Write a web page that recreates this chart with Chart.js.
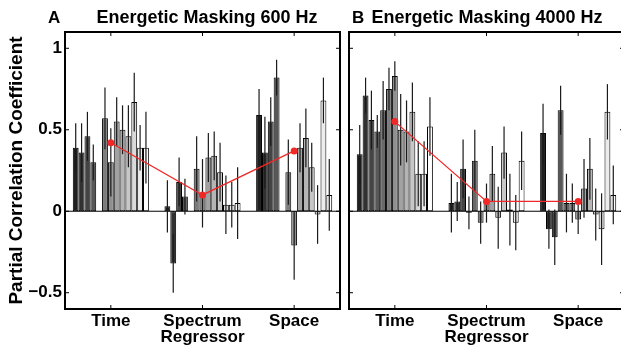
<!DOCTYPE html>
<html>
<head>
<meta charset="utf-8">
<script src="https://cdn.jsdelivr.net/npm/chart.js@4.4.0/dist/chart.umd.min.js"></script>
<style>
html,body{margin:0;padding:0;background:#fff;overflow:hidden;width:621px;height:352px}
.panel{position:absolute;top:0;height:352px}
#pa{left:0;width:345px}
#pb{left:345px;width:284px}
</style>
</head>
<body>
<div class="panel" id="pa"><canvas id="chartA" width="345" height="352"></canvas></div>
<div class="panel" id="pb"><canvas id="chartB" width="284" height="352"></canvas></div>
<script>
const regressors = ["Time", "Spectrum", "Space"];
const yTicks = [-0.5, 0, 0.5, 1];

// panel A, 600 Hz (slot 5 has no bar)
const timeA     = [0.39, 0.36, 0.46, 0.30, null, 0.57, 0.30, 0.55, 0.50, 0.46, 0.67, 0.39, 0.39];
const timeAErr  = [0.15, 0.18, 0.15, 0.11, null, 0.19, 0.21, 0.15, 0.15, 0.19, 0.18, 0.14, 0.22];
const specA     = [0.03, -0.32, 0.18, 0.09, null, 0.26, 0.11, 0.33, 0.34, 0.24, 0.04, 0.04, 0.05];
const specAErr  = [0.16, 0.18, 0.15, 0.11, null, 0.20, 0.21, 0.15, 0.15, 0.18, 0.18, 0.14, 0.22];
const spaceA    = [0.59, 0.36, 0.55, 0.82, null, 0.24, -0.21, 0.39, 0.45, 0.27, -0.02, 0.68, 0.10];
const spaceAErr = [0.16, 0.22, 0.15, 0.11, null, 0.20, 0.21, 0.15, 0.18, 0.15, 0.18, 0.14, 0.22];
const meanA     = [0.42, 0.10, 0.37];

// panel B, 4000 Hz
const timeB     = [0.35, 0.71, 0.56, 0.49, 0.62, 0.75, 0.83, 0.50, 0.49, 0.61, 0.23, 0.23, 0.52];
const timeBErr  = [0.18, 0.11, 0.18, 0.10, 0.18, 0.13, 0.09, 0.22, 0.19, 0.18, 0.20, 0.20, 0.18];
const specB     = [0.05, 0.06, 0.26, -0.01, 0.31, -0.07, 0.05, 0.23, -0.04, 0.36, 0.01, -0.07, 0.31];
const specBErr  = [0.18, 0.12, 0.18, 0.10, 0.19, 0.13, 0.12, 0.17, 0.19, 0.16, 0.22, 0.17, 0.18];
const spaceB    = [0.48, -0.11, -0.16, 0.62, 0.05, 0.05, -0.05, 0.14, 0.26, -0.02, -0.11, 0.61, 0.10];
const spaceBErr = [0.18, 0.12, 0.17, 0.15, 0.18, 0.12, 0.09, 0.18, 0.19, 0.16, 0.22, 0.17, 0.18];
const meanB     = [0.55, 0.06, 0.06];

const FONT = "'Liberation Sans', Arial, Helvetica, sans-serif";

function grayFill(i){
  const g = Math.round(255*(0.12 + 0.88*i/12));
  return `rgb(${g},${g},${g})`;
}

function buildDatasets(groups, errs, means){
  const sets = [];
  for(let i=0;i<13;i++){
    sets.push({
      type:'bar',
      data: groups.map(g => g[i]),
      errors: errs.map(e => e[i]),
      backgroundColor: grayFill(i),
      borderColor:'#000',
      borderWidth:1,
      borderSkipped:false,
      categoryPercentage:0.83,
      barPercentage:1.0,
      order:1
    });
  }
  sets.push({
    type:'line',
    data: means,
    borderColor:'#f02828',
    borderWidth:1.3,
    pointRadius:3.5,
    pointBackgroundColor:'#f02828',
    pointBorderWidth:0,
    order:0
  });
  return sets;
}

const decor = {
  id:'decor',
  beforeDatasetDraw(chart, args){
    if(args.meta.type !== 'line') return;
    const ctx = chart.ctx, y = chart.scales.y, a = chart.chartArea;
    ctx.save();
    ctx.strokeStyle = '#000';
    ctx.lineWidth = 1;
    const y0 = y.getPixelForValue(0);
    ctx.beginPath(); ctx.moveTo(a.left, y0); ctx.lineTo(a.right, y0); ctx.stroke();
    ctx.strokeStyle = '#1a1a1a';
    ctx.lineWidth = 1.2;
    chart.data.datasets.forEach((ds, di) => {
      if(ds.type === 'line') return;
      const meta = chart.getDatasetMeta(di);
      meta.data.forEach((bar, j) => {
        const v = ds.data[j], e = ds.errors[j];
        if(v == null) return;
        ctx.beginPath();
        ctx.moveTo(bar.x, y.getPixelForValue(v - e));
        ctx.lineTo(bar.x, y.getPixelForValue(v + e));
        ctx.stroke();
      });
    });
    ctx.restore();
  },
  afterDraw(chart, args, o){
    const ctx = chart.ctx, a = chart.chartArea, x = chart.scales.x, y = chart.scales.y;
    ctx.save();
    ctx.strokeStyle = '#000';
    ctx.lineWidth = 1;
    yTicks.forEach(v => {
      const p = y.getPixelForValue(v);
      ctx.beginPath();
      ctx.moveTo(a.left, p); ctx.lineTo(a.left+4, p);
      ctx.moveTo(a.right, p); ctx.lineTo(a.right-4, p);
      ctx.stroke();
    });
    regressors.forEach((r, j) => {
      const p = x.getPixelForValue(j);
      ctx.beginPath();
      ctx.moveTo(p, a.top); ctx.lineTo(p, a.top+4);
      ctx.moveTo(p, a.bottom); ctx.lineTo(p, a.bottom-4);
      ctx.stroke();
    });
    ctx.lineWidth = 2;
    ctx.strokeRect(a.left, a.top, a.right-a.left, a.bottom-a.top);
    ctx.fillStyle = '#000';
    ctx.textBaseline = 'alphabetic';
    ctx.font = 'bold 17px ' + FONT;
    ctx.textAlign = 'left';
    ctx.fillText(o.letter, o.letterX, 23);
    ctx.font = 'bold 18px ' + FONT;
    ctx.textAlign = 'center';
    ctx.fillText(o.title, o.titleX, 23);
    ctx.restore();
  }
};

function makePanel(id, groups, errs, means, opt){
  const yScale = {
    min:-0.6, max:1.1,
    display: opt.showY,
    afterBuildTicks: s => { s.ticks = yTicks.map(v => ({value:v})); },
    afterFit: s => { s.width = opt.showY ? 65 : 0; },
    grid:{display:false, drawTicks:false},
    border:{display:false},
    ticks:{
      color:'#000', padding:3,
      font:{family:FONT, size:17, weight:'bold'},
      callback: v => v < 0 ? '\u2212' + Math.abs(v) : String(v)
    },
    title:{
      display:true, text:'Partial Correlation Coefficient', color:'#000',
      font:{family:FONT, size:19, weight:'bold'},
      padding:{top:5, bottom:0}
    }
  };
  return new Chart(document.getElementById(id), {
    data:{ labels: regressors, datasets: buildDatasets(groups, errs, means) },
    options:{
      responsive:false,
      animation:false,
      layout:{ padding: opt.padding },
      plugins:{
        legend:{display:false},
        tooltip:{enabled:false},
        decor:{ letter: opt.letter, letterX: opt.letterX, title: opt.title, titleX: opt.titleX }
      },
      scales:{
        x:{
          type:'category',
          offset:true,
          afterFit: s => { s.height = 43; },
          grid:{display:false, drawTicks:false},
          border:{display:false},
          ticks:{ color:'#000', padding:2, maxRotation:0, autoSkip:false,
                  font:{family:FONT, size:17, weight:'bold'} },
          title:{
            display:true, text:'Regressor', color:'#000',
            font:{family:FONT, size:17, weight:'bold'},
            padding:{top:0, bottom:4}
          }
        },
        y: yScale
      }
    },
    plugins:[decor]
  });
}

makePanel('chartA', [timeA, specA, spaceA], [timeAErr, specAErr, spaceAErr], meanA, {
  showY:true, padding:{left:0, right:5, top:32, bottom:0},
  letter:'A', letterX:48, title:'Energetic Masking 600 Hz', titleX:207
});
makePanel('chartB', [timeB, specB, spaceB], [timeBErr, specBErr, spaceBErr], meanB, {
  showY:false, padding:{left:3, right:5, top:32, bottom:0},
  letter:'B', letterX:7, title:'Energetic Masking 4000 Hz', titleX:142
});
</script>
</body>
</html>
